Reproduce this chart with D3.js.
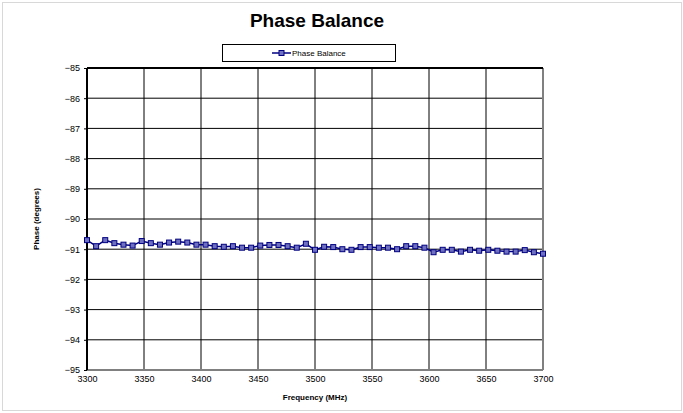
<!DOCTYPE html>
<html>
<head>
<meta charset="utf-8">
<script src="https://cdn.jsdelivr.net/npm/d3@7"></script>
<style>
  body { margin: 0; background: #fff; }
  svg { display: block; font-family: Arial, "Liberation Sans", sans-serif; }
</style>
</head>
<body>
<div id="chart"></div>
<script>
const frequencies = [];
for (let f = 3300; f <= 3700; f += 8) frequencies.push(f);

const phaseBalance = [
  -90.70, -90.90, -90.70, -90.80, -90.85, -90.88, -90.73, -90.80, -90.85, -90.78,
  -90.75, -90.78, -90.85, -90.85, -90.90, -90.92, -90.90, -90.95, -90.95, -90.88,
  -90.86, -90.86, -90.90, -90.95, -90.82, -91.02, -90.92, -90.93, -91.00, -91.02,
  -90.93, -90.93, -90.95, -90.95, -91.00, -90.90, -90.90, -90.95, -91.10, -91.02,
  -91.02, -91.08, -91.02, -91.05, -91.02, -91.05, -91.08, -91.08, -91.03, -91.10,
  -91.15
];

const xTicks = [3300, 3350, 3400, 3450, 3500, 3550, 3600, 3650, 3700];
const yTicks = [-85, -86, -87, -88, -89, -90, -91, -92, -93, -94, -95];

const width = 683, height = 413;
const plot = { left: 87, right: 543, top: 68, bottom: 370 };

const svg = d3.select('#chart').append('svg')
  .attr('width', width)
  .attr('height', height);

// outer chart frame
svg.append('rect')
  .attr('x', 2.5).attr('y', 2.5)
  .attr('width', 679).attr('height', 408)
  .attr('fill', '#fff')
  .attr('stroke', '#d8d8d8');

const x = d3.scaleLinear().domain([3300, 3700]).range([plot.left, plot.right]);
const y = d3.scaleLinear().domain([-95, -85]).range([plot.bottom, plot.top]);

// grid
svg.append('g')
  .selectAll('line')
  .data(xTicks.slice(1, -1))
  .join('line')
  .attr('x1', d => x(d)).attr('x2', d => x(d))
  .attr('y1', plot.top).attr('y2', plot.bottom)
  .attr('stroke', '#000').attr('stroke-width', 1);

svg.append('g')
  .selectAll('line')
  .data(yTicks.slice(1, -1))
  .join('line')
  .attr('x1', plot.left).attr('x2', plot.right)
  .attr('y1', d => y(d)).attr('y2', d => y(d))
  .attr('stroke', '#000').attr('stroke-width', 1);

// plot border: gray right/bottom, black top/left
svg.append('line')
  .attr('x1', plot.right).attr('x2', plot.right)
  .attr('y1', plot.top).attr('y2', plot.bottom)
  .attr('stroke', '#808080').attr('stroke-width', 2);
svg.append('line')
  .attr('x1', plot.left).attr('x2', plot.right)
  .attr('y1', plot.bottom).attr('y2', plot.bottom)
  .attr('stroke', '#808080').attr('stroke-width', 2);
svg.append('line')
  .attr('x1', plot.left).attr('x2', plot.right)
  .attr('y1', plot.top).attr('y2', plot.top)
  .attr('stroke', '#000').attr('stroke-width', 2);
svg.append('line')
  .attr('x1', plot.left).attr('x2', plot.left)
  .attr('y1', plot.top).attr('y2', plot.bottom)
  .attr('stroke', '#000').attr('stroke-width', 2);

// y axis
const yAxis = svg.append('g')
  .attr('transform', `translate(${plot.left},0)`)
  .call(d3.axisLeft(y).tickValues(yTicks).tickSize(3).tickPadding(4).tickFormat(d3.format('d')));
yAxis.select('.domain').remove();
yAxis.selectAll('text').style('font-size', '9px').attr('fill', '#000');

// x axis
const xAxis = svg.append('g')
  .attr('transform', `translate(0,${plot.bottom})`)
  .call(d3.axisBottom(x).tickValues(xTicks).tickSize(0).tickPadding(6).tickFormat(d3.format('d')));
xAxis.select('.domain').remove();
xAxis.selectAll('text').style('font-size', '9px').attr('fill', '#000');

// titles
svg.append('text')
  .attr('x', 317).attr('y', 27)
  .attr('text-anchor', 'middle')
  .style('font-size', '19px').style('font-weight', 'bold')
  .text('Phase Balance');

svg.append('text')
  .attr('x', (plot.left + plot.right) / 2).attr('y', 400)
  .attr('text-anchor', 'middle')
  .style('font-size', '8px').style('font-weight', 'bold')
  .text('Frequency (MHz)');

svg.append('text')
  .attr('transform', `translate(39,${(plot.top + plot.bottom) / 2}) rotate(-90)`)
  .attr('text-anchor', 'middle')
  .style('font-size', '8px').style('font-weight', 'bold')
  .text('Phase (degrees)');

// series
const data = frequencies.map((f, i) => ({ f, v: phaseBalance[i] }));

svg.append('path')
  .datum(data)
  .attr('fill', 'none')
  .attr('stroke', '#000080')
  .attr('stroke-width', 1.5)
  .attr('d', d3.line().x(d => x(d.f)).y(d => y(d.v)));

svg.append('g')
  .selectAll('rect')
  .data(data)
  .join('rect')
  .attr('x', d => x(d.f) - 2.5).attr('y', d => y(d.v) - 2.5)
  .attr('width', 5).attr('height', 5)
  .attr('fill', '#7070c0')
  .attr('stroke', '#000080')
  .attr('stroke-width', 1);

// legend
const legend = svg.append('g');
legend.append('rect')
  .attr('x', 222.5).attr('y', 44.5)
  .attr('width', 173).attr('height', 17)
  .attr('fill', '#fff').attr('stroke', '#000').attr('stroke-width', 1);
legend.append('line')
  .attr('x1', 272).attr('x2', 291).attr('y1', 53).attr('y2', 53)
  .attr('stroke', '#000080').attr('stroke-width', 1.5);
legend.append('rect')
  .attr('x', 279).attr('y', 50.5).attr('width', 5).attr('height', 5)
  .attr('fill', '#7070c0').attr('stroke', '#000080');
legend.append('text')
  .attr('x', 292).attr('y', 56)
  .style('font-size', '8px')
  .text('Phase Balance');
</script>
</body>
</html>
